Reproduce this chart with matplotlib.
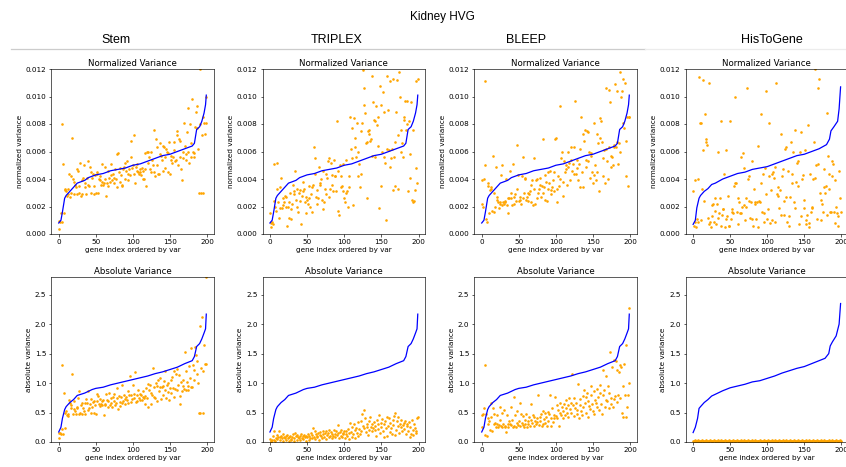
import numpy as np
import matplotlib
matplotlib.use('Agg')
import matplotlib.pyplot as plt

# ---- data (normalized values in units of 1e-3) ----
idx = np.arange(200)

curve_x = [0, 3, 5, 8, 10, 15, 20, 25, 30, 35, 40, 45, 50, 60, 70, 80, 90, 100,
           110, 120, 130, 140, 150, 160, 170, 180, 183, 186, 190, 193, 196, 198, 199]
norm_curve = [0.8, 1.0, 1.6, 2.6, 2.8, 3.1, 3.4, 3.7, 3.8, 3.9, 4.1, 4.2, 4.3, 4.4,
              4.6, 4.7, 4.8, 5.0, 5.1, 5.3, 5.5, 5.7, 5.8, 6.0, 6.2, 6.4, 6.6, 7.6,
              7.8, 8.2, 8.8, 9.4, 10.1]
abs_curve = [0.17, 0.25, 0.40, 0.55, 0.60, 0.67, 0.72, 0.79, 0.81, 0.83, 0.86, 0.89,
             0.91, 0.93, 0.97, 1.00, 1.03, 1.06, 1.09, 1.12, 1.16, 1.19, 1.23, 1.27,
             1.33, 1.38, 1.45, 1.62, 1.67, 1.75, 1.85, 1.92, 2.17]

htg_x = [0, 3, 5, 8, 10, 15, 20, 25, 30, 40, 50, 60, 70, 80, 90, 100, 110, 120,
         130, 140, 150, 160, 170, 180, 184, 186, 190, 195, 197, 199]
htg_norm_curve = [0.7, 1.0, 1.9, 2.6, 2.8, 3.1, 3.3, 3.6, 3.7, 4.0, 4.2, 4.4, 4.5,
                  4.7, 4.8, 4.9, 5.1, 5.3, 5.5, 5.7, 5.8, 6.0, 6.2, 6.5, 6.9, 7.5,
                  7.8, 8.2, 9.1, 10.7]
htg_abs_x = [0, 3, 6, 8, 10, 15, 20, 25, 30, 40, 50, 60, 70, 80, 90, 100, 110, 120,
             130, 140, 150, 160, 170, 178, 183, 185, 188, 193, 197, 199]
htg_abs_curve = [0.16, 0.25, 0.40, 0.57, 0.60, 0.67, 0.72, 0.78, 0.81, 0.87, 0.92,
                 0.95, 0.98, 1.02, 1.04, 1.08, 1.12, 1.17, 1.21, 1.25, 1.28, 1.33,
                 1.38, 1.42, 1.50, 1.63, 1.70, 1.80, 2.00, 2.35]

stem_norm = [
    0.4, 0.95, 0.9, 1.55, 8.0, 0.9, 5.1, 1.5, 3.3, 3.2,
    3.1, 2.8, 2.9, 3.3, 4.4, 2.7, 4.2, 3.0, 7.0, 4.0,
    2.9, 3.8, 3.6, 3.4, 2.9, 4.7, 4.6, 3.5, 3.0, 5.2,
    2.8, 3.9, 2.9, 4.1, 5.0, 3.7, 3.4, 2.9, 4.1, 3.6,
    5.3, 3.5, 4.9, 4.5, 3.0, 4.1, 4.4, 2.9, 3.5, 4.3,
    3.0, 4.5, 4.4, 3.0, 4.0, 3.9, 4.2, 3.6, 3.8, 5.1,
    3.6, 3.7, 4.9, 4.0, 2.8, 3.7, 3.5, 4.6, 4.1, 3.8,
    5.1, 4.3, 3.9, 4.4, 4.1, 3.7, 4.7, 4.0, 3.4, 5.8,
    5.9, 4.5, 4.8, 3.8, 4.3, 3.6, 3.5, 4.7, 4.9, 4.0,
    5.2, 4.6, 5.3, 3.9, 4.4, 4.7, 4.3, 5.6, 6.8, 4.8,
    5.0, 4.4, 7.2, 3.7, 4.9, 4.6, 5.1, 4.5, 4.4, 4.7,
    4.5, 4.3, 4.8, 4.0, 4.6, 4.0, 5.9, 4.7, 3.5, 6.0,
    5.2, 6.0, 5.6, 4.7, 6.0, 4.5, 5.4, 5.0, 4.5, 7.6,
    4.2, 6.9, 6.3, 5.0, 4.4, 4.4, 5.8, 6.6, 5.7, 5.4,
    6.4, 4.6, 6.3, 5.6, 4.8, 6.2, 6.0, 5.9, 4.5, 6.7,
    4.4, 5.7, 5.4, 5.2, 5.6, 6.7, 6.1, 5.3, 5.4, 7.2,
    7.5, 5.0, 6.9, 5.6, 6.8, 4.7, 3.9, 5.5, 6.0, 8.1,
    6.4, 5.4, 5.8, 7.4, 9.2, 6.0, 5.2, 8.0, 5.6, 6.6,
    9.8, 6.0, 5.6, 5.9, 7.8, 8.9, 7.7, 9.3, 6.2, 3.0,
    12.0, 8.0, 3.0, 7.2, 8.5, 3.0, 8.1, 7.3, 10.0, 8.1]

triplex_norm = [
    1.5, 0.5, 0.8, 0.9, 0.7, 5.1, 2.4, 2.0, 1.7, 3.3,
    5.2, 2.3, 1.2, 3.4, 1.9, 4.1, 1.9, 2.6, 2.1, 2.3,
    2.8, 2.0, 2.7, 0.6, 2.0, 2.3, 1.2, 3.0, 1.1, 1.8,
    2.2, 3.6, 3.1, 2.9, 4.6, 2.5, 3.3, 2.0, 1.6, 3.0,
    2.4, 3.2, 0.7, 2.8, 3.1, 3.8, 3.3, 2.3, 2.7, 1.5,
    2.5, 2.2, 3.5, 2.6, 2.0, 2.9, 3.4, 1.6, 3.6, 6.3,
    4.4, 5.5, 2.7, 3.2, 2.2, 2.6, 4.9, 3.6, 3.7, 4.0,
    2.5, 1.8, 4.6, 2.3, 3.3, 2.9, 4.4, 4.1, 5.3, 2.7,
    5.5, 3.3, 5.2, 4.3, 3.6, 3.1, 5.4, 4.2, 4.2, 3.1,
    8.2, 1.7, 4.6, 1.4, 5.0, 3.4, 4.2, 3.5, 5.1, 3.1,
    2.6, 2.3, 5.4, 3.0, 3.1, 2.0, 4.2, 3.4, 8.5, 6.2,
    5.5, 7.7, 2.1, 8.4, 6.3, 7.0, 5.6, 8.1, 4.2, 6.0,
    5.1, 3.4, 4.4, 7.5, 8.1, 11.9, 9.4, 10.6, 8.8, 6.6,
    6.7, 2.6, 7.5, 7.3, 7.6, 6.8, 6.9, 11.5, 5.7, 9.6,
    8.3, 8.2, 5.6, 9.3, 7.9, 8.5, 6.4, 1.9, 10.8, 3.5,
    9.4, 6.0, 10.3, 5.6, 8.9, 5.2, 1.0, 11.5, 6.2, 9.0,
    6.1, 11.1, 4.9, 5.5, 6.2, 11.3, 3.2, 5.6, 3.5, 6.7,
    8.9, 11.2, 7.2, 3.3, 11.8, 10.0, 7.6, 6.0, 6.6, 5.6,
    8.5, 8.3, 9.7, 7.6, 9.7, 8.0, 3.1, 8.2, 4.1, 5.8,
    9.6, 2.5, 2.3, 7.6, 2.4, 3.2, 4.8, 11.1, 3.7, 11.3]

bleep_norm = [
    2.2, 3.9, 2.0, 4.0, 5.0, 11.1, 1.1, 0.9, 3.5, 3.7,
    1.5, 3.2, 3.4, 3.3, 1.7, 5.7, 1.6, 3.0, 2.0, 4.9,
    2.7, 2.5, 2.3, 1.9, 2.3, 2.2, 4.3, 2.1, 5.0, 2.3,
    2.2, 2.4, 2.3, 4.0, 2.1, 1.5, 2.6, 2.6, 4.6, 2.6,
    3.0, 2.1, 5.1, 2.2, 2.7, 2.9, 2.4, 3.3, 6.5, 4.3,
    2.4, 2.7, 2.5, 2.2, 4.2, 2.6, 5.6, 3.0, 4.1, 4.0,
    2.5, 2.7, 3.0, 2.4, 2.9, 3.1, 2.3, 3.6, 3.9, 2.1,
    5.5, 3.3, 2.2, 3.9, 4.0, 2.6, 3.0, 3.3, 4.1, 3.6,
    2.7, 3.5, 6.9, 3.0, 3.4, 2.5, 4.3, 3.8, 2.4, 4.5,
    3.3, 3.7, 4.6, 3.2, 2.9, 3.4, 3.9, 3.1, 4.5, 6.9,
    7.0, 2.3, 3.3, 4.2, 3.5, 9.3, 4.0, 5.5, 6.0, 3.8,
    2.8, 5.3, 4.5, 5.0, 4.7, 3.6, 6.0, 4.9, 5.2, 3.9,
    6.3, 5.4, 4.6, 5.1, 4.4, 6.3, 9.7, 4.4, 5.4, 4.8,
    3.9, 5.1, 6.2, 3.4, 8.5, 4.5, 7.3, 3.4, 6.8, 7.6,
    4.9, 5.4, 7.5, 7.4, 5.3, 6.0, 4.1, 5.9, 5.7, 4.5,
    3.7, 8.1, 4.3, 5.0, 3.9, 7.3, 4.5, 6.6, 3.1, 7.0,
    8.4, 8.2, 6.7, 4.2, 5.5, 6.1, 3.7, 10.6, 6.2, 5.3,
    4.0, 6.3, 10.5, 9.6, 4.9, 5.7, 5.6, 5.0, 6.3, 6.5,
    10.9, 6.3, 10.4, 6.7, 5.1, 6.6, 11.8, 6.0, 10.0, 10.4,
    8.1, 11.3, 7.7, 11.0, 4.2, 6.8, 8.5, 3.5, 8.5, 8.5]

htg_norm = [
    3.1, 0.6, 0.9, 3.9, 0.5, 1.1, 0.9, 4.0, 11.4, 8.1,
    8.1, 1.0, 3.3, 11.2, 6.1, 2.4, 8.7, 6.7, 6.9, 6.5,
    1.2, 11.0, 0.7, 0.9, 0.5, 2.1, 1.3, 2.2, 0.9, 2.6,
    1.7, 0.7, 2.2, 1.2, 6.0, 1.5, 2.6, 8.2, 0.6, 1.4,
    1.8, 1.8, 4.4, 0.5, 6.1, 1.1, 1.3, 2.8, 0.6, 0.6,
    8.2, 1.1, 1.6, 1.8, 1.5, 3.5, 10.0, 3.7, 3.7, 1.6,
    0.7, 2.6, 2.3, 1.5, 1.5, 5.6, 2.0, 5.9, 4.8, 2.1,
    1.0, 2.0, 2.6, 10.6, 4.0, 4.2, 2.4, 1.2, 2.3, 5.3,
    1.1, 0.6, 3.3, 2.2, 2.3, 1.1, 2.3, 6.4, 0.5, 2.4,
    2.3, 3.7, 8.7, 1.6, 4.4, 1.5, 0.9, 4.8, 2.9, 10.4,
    1.1, 1.8, 4.2, 8.1, 0.8, 3.2, 1.0, 4.4, 4.5, 4.1,
    4.9, 0.9, 11.0, 2.9, 2.8, 3.4, 1.9, 3.2, 7.3, 1.4,
    4.2, 4.7, 1.4, 2.4, 6.2, 6.3, 2.7, 0.9, 4.6, 0.6,
    1.3, 2.7, 6.7, 3.7, 4.4, 6.0, 2.3, 1.9, 7.6, 3.8,
    5.2, 3.5, 5.3, 0.7, 6.0, 7.4, 1.3, 4.0, 4.3, 1.9,
    2.5, 6.1, 1.0, 0.7, 1.4, 7.9, 0.8, 0.5, 4.4, 1.6,
    1.9, 2.0, 4.0, 6.7, 12.0, 4.1, 5.0, 1.1, 5.1, 10.6,
    11.3, 3.0, 1.0, 2.5, 2.2, 1.6, 4.7, 3.4, 3.0, 3.5,
    8.8, 1.4, 5.7, 3.3, 4.4, 1.6, 1.6, 5.3, 4.2, 5.1,
    1.6, 0.8, 3.9, 2.0, 1.5, 0.6, 1.3, 4.6, 2.6, 1.6]

stem_abs = [
    0.15, 0.07, 0.15, 0.14, 0.22, 1.31, 0.14, 0.84, 0.24, 0.50,
    0.53, 0.46, 0.44, 0.47, 0.72, 0.66, 0.62, 0.57, 1.15, 0.48,
    0.70, 0.56, 0.53, 0.48, 0.60, 0.58, 0.75, 0.47, 0.86, 0.50,
    0.63, 0.48, 0.66, 0.58, 0.52, 0.66, 0.48, 0.73, 0.66, 0.55,
    0.87, 0.57, 0.65, 0.50, 0.73, 0.60, 0.68, 0.69, 0.50, 0.62,
    0.48, 0.70, 0.82, 0.78, 0.65, 0.61, 0.73, 0.64, 0.70, 0.62,
    0.72, 0.46, 0.65, 0.62, 0.81, 0.72, 0.60, 0.69, 0.84, 0.62,
    0.67, 0.75, 0.59, 0.77, 0.70, 0.82, 0.62, 0.67, 0.91, 0.74,
    0.56, 0.78, 0.68, 0.61, 0.77, 0.96, 0.66, 0.70, 0.79, 0.73,
    0.64, 0.77, 0.71, 0.87, 0.66, 0.80, 1.12, 0.68, 0.79, 0.73,
    0.97, 0.75, 0.82, 1.18, 0.68, 0.70, 0.79, 0.88, 0.74, 0.82,
    0.71, 0.80, 0.72, 0.86, 0.77, 0.75, 0.78, 0.65, 0.92, 0.74,
    0.98, 0.59, 0.89, 0.97, 0.65, 0.84, 0.80, 1.26, 0.77, 0.93,
    0.74, 1.00, 0.95, 0.69, 1.06, 0.86, 1.08, 0.94, 0.73, 0.93,
    0.95, 0.79, 1.03, 0.88, 1.20, 0.74, 0.97, 1.00, 0.85, 0.72,
    0.91, 1.05, 0.83, 1.10, 0.92, 0.77, 1.21, 0.90, 1.16, 0.88,
    1.24, 0.97, 1.13, 0.78, 0.64, 1.01, 0.86, 0.95, 1.05, 0.90,
    1.52, 0.89, 1.20, 1.02, 0.95, 0.88, 1.29, 1.09, 0.93, 1.60,
    0.93, 1.30, 1.05, 1.22, 1.61, 1.47, 1.15, 1.37, 1.00, 0.50,
    1.97, 0.50, 1.25, 2.12, 0.50, 1.20, 1.64, 1.32, 1.33, 2.80]

triplex_abs = [
    0.05, 0.02, 0.00, 0.03, 0.10, 0.18, 0.04, 0.01, 0.07, 0.12,
    0.05, 0.09, 0.19, 0.08, 0.03, 0.11, 0.06, 0.13, 0.02, 0.09,
    0.07, 0.10, 0.04, 0.12, 0.06, 0.01, 0.08, 0.11, 0.05, 0.03,
    0.09, 0.14, 0.06, 0.02, 0.16, 0.10, 0.04, 0.12, 0.08, 0.06,
    0.11, 0.03, 0.13, 0.07, 0.10, 0.05, 0.12, 0.09, 0.02, 0.11,
    0.08, 0.13, 0.04, 0.10, 0.07, 0.15, 0.06, 0.12, 0.23, 0.09,
    0.19, 0.05, 0.14, 0.11, 0.08, 0.16, 0.03, 0.12, 0.17, 0.10,
    0.07, 0.18, 0.13, 0.09, 0.15, 0.05, 0.19, 0.12, 0.16, 0.08,
    0.20, 0.11, 0.17, 0.06, 0.14, 0.10, 0.21, 0.13, 0.08, 0.18,
    0.12, 0.29, 0.15, 0.07, 0.17, 0.11, 0.20, 0.09, 0.16, 0.13,
    0.19, 0.06, 0.14, 0.18, 0.10, 0.22, 0.05, 0.15, 0.32, 0.17,
    0.09, 0.26, 0.13, 0.30, 0.20, 0.07, 0.24, 0.16, 0.34, 0.11,
    0.22, 0.14, 0.36, 0.19, 0.48, 0.27, 0.54, 0.23, 0.40, 0.17,
    0.25, 0.30, 0.12, 0.35, 0.21, 0.43, 0.26, 0.18, 0.31, 0.24,
    0.34, 0.20, 0.28, 0.10, 0.38, 0.22, 0.30, 0.46, 0.15, 0.33,
    0.26, 0.39, 0.19, 0.30, 0.08, 0.35, 0.23, 0.11, 0.42, 0.28,
    0.40, 0.17, 0.33, 0.24, 0.14, 0.37, 0.29, 0.44, 0.12, 0.50,
    0.21, 0.35, 0.27, 0.42, 0.15, 0.31, 0.25, 0.38, 0.19, 0.29,
    0.33, 0.22, 0.36, 0.13, 0.27, 0.30, 0.18, 0.34, 0.09, 0.26,
    0.14, 0.38, 0.20, 0.12, 0.31, 0.24, 0.15, 0.19, 0.41, 0.42]

bleep_abs = [
    0.26, 0.46, 0.47, 0.58, 1.30, 0.12, 0.47, 0.10, 0.30, 0.40,
    0.35, 0.20, 0.43, 0.67, 0.19, 0.58, 0.30, 0.47, 0.32, 0.26,
    0.30, 0.45, 0.25, 0.29, 0.59, 0.38, 0.27, 0.50, 0.26, 0.30,
    0.55, 0.26, 0.28, 0.17, 0.46, 0.30, 0.25, 0.36, 0.30, 0.60,
    0.29, 0.38, 0.25, 0.76, 0.28, 0.45, 0.26, 0.33, 0.52, 0.29,
    0.35, 0.27, 0.66, 0.48, 0.33, 0.29, 0.44, 0.25, 0.38, 0.31,
    0.47, 0.26, 0.35, 0.30, 0.42, 0.28, 0.65, 0.38, 0.33, 0.45,
    0.27, 0.43, 0.36, 0.30, 0.40, 0.34, 0.80, 0.29, 0.42, 0.36,
    0.47, 0.28, 0.52, 0.31, 0.39, 0.50, 0.33, 0.43, 0.28, 0.51,
    0.36, 0.48, 0.80, 0.41, 0.27, 0.58, 0.34, 0.45, 0.40, 0.77,
    0.44, 0.63, 0.40, 0.55, 0.28, 0.50, 0.67, 0.45, 0.60, 0.52,
    0.41, 0.65, 0.46, 0.58, 0.72, 0.49, 0.62, 0.43, 0.74, 0.56,
    0.67, 0.50, 1.15, 0.62, 0.44, 0.74, 0.58, 0.66, 0.47, 0.55,
    0.99, 0.41, 0.73, 0.63, 0.52, 0.45, 0.78, 0.60, 0.88, 0.67,
    0.76, 0.50, 0.84, 0.42, 0.70, 0.61, 0.56, 0.80, 0.95, 0.64,
    0.52, 0.86, 0.47, 0.71, 0.66, 0.90, 0.59, 0.77, 0.55, 0.83,
    0.97, 0.65, 0.48, 1.22, 0.79, 0.88, 0.60, 0.72, 1.12, 0.69,
    0.95, 0.57, 0.83, 1.52, 0.65, 0.74, 1.27, 0.60, 1.39, 0.73,
    0.78, 1.38, 0.68, 1.22, 0.80, 1.19, 1.30, 0.75, 1.27, 0.50,
    0.42, 0.95, 1.32, 0.79, 0.42, 1.65, 0.60, 0.80, 2.28, 1.00]

htg_abs = [
    0.02, 0.01, 0.03, 0.02, 0.01, 0.02, 0.03, 0.01, 0.02, 0.02,
    0.01, 0.02, 0.03, 0.02, 0.01, 0.02, 0.02, 0.03, 0.01, 0.02,
    0.02, 0.01, 0.02, 0.03, 0.02, 0.01, 0.02, 0.02, 0.03, 0.01,
    0.02, 0.02, 0.01, 0.03, 0.02, 0.02, 0.01, 0.02, 0.03, 0.02,
    0.01, 0.02, 0.02, 0.03, 0.01, 0.02, 0.02, 0.01, 0.03, 0.02,
    0.02, 0.01, 0.02, 0.02, 0.03, 0.01, 0.02, 0.02, 0.01, 0.03,
    0.02, 0.02, 0.01, 0.02, 0.03, 0.02, 0.01, 0.02, 0.02, 0.03,
    0.01, 0.02, 0.02, 0.01, 0.03, 0.02, 0.02, 0.01, 0.02, 0.03,
    0.02, 0.01, 0.02, 0.02, 0.03, 0.01, 0.02, 0.02, 0.01, 0.02,
    0.03, 0.02, 0.01, 0.02, 0.02, 0.03, 0.01, 0.02, 0.02, 0.01,
    0.02, 0.03, 0.02, 0.01, 0.02, 0.02, 0.03, 0.01, 0.02, 0.02,
    0.01, 0.03, 0.02, 0.02, 0.01, 0.02, 0.03, 0.02, 0.01, 0.02,
    0.02, 0.03, 0.01, 0.02, 0.02, 0.01, 0.03, 0.02, 0.02, 0.01,
    0.02, 0.03, 0.02, 0.01, 0.02, 0.02, 0.03, 0.01, 0.02, 0.02,
    0.01, 0.02, 0.03, 0.02, 0.01, 0.02, 0.02, 0.03, 0.01, 0.02,
    0.02, 0.01, 0.03, 0.02, 0.02, 0.01, 0.02, 0.03, 0.02, 0.01,
    0.02, 0.02, 0.03, 0.01, 0.02, 0.02, 0.01, 0.03, 0.02, 0.02,
    0.01, 0.02, 0.03, 0.02, 0.01, 0.02, 0.02, 0.03, 0.01, 0.02,
    0.02, 0.01, 0.02, 0.03, 0.02, 0.01, 0.02, 0.02, 0.03, 0.01,
    0.02, 0.02, 0.01, 0.03, 0.02, 0.02, 0.01, 0.02, 0.03, 0.02]

methods = ['Stem', 'TRIPLEX', 'BLEEP', 'HisToGene']
norm_points = [stem_norm, triplex_norm, bleep_norm, htg_norm]
abs_points = [stem_abs, triplex_abs, bleep_abs, htg_abs]

# ---- figure ----
W, H = 846.0, 467.0
fig = plt.figure(figsize=(W / 100, H / 100), dpi=100)

params = {'font.size': 5.2,
          'axes.titlesize': 6.2,
          'axes.labelsize': 5.2,
          'xtick.labelsize': 5.2,
          'ytick.labelsize': 5.2,
          'axes.linewidth': 0.45,
          'xtick.major.width': 0.45,
          'ytick.major.width': 0.45,
          'xtick.major.size': 1.8,
          'ytick.major.size': 1.8,
          'xtick.major.pad': 1.8,
          'ytick.major.pad': 1.8,
          'axes.labelpad': 2.0}
plt.rcParams.update(params)

col_px = [(51.3, 213.7), (262.5, 425.2), (474.3, 636.7), (685.7, 848.0)]
row_px = [(69.0, 234.0), (277.0, 442.0)]


def px_axes(x0, x1, y0, y1):
    return fig.add_axes([x0 / W, 1 - y1 / H, (x1 - x0) / W, (y1 - y0) / H])


for i, name in enumerate(methods):
    x0, x1 = col_px[i]
    if name == 'HisToGene':
        nx, ny = htg_x, htg_norm_curve
        ax_, ay_ = htg_abs_x, htg_abs_curve
    else:
        nx, ny = curve_x, norm_curve
        ax_, ay_ = curve_x, abs_curve

    # normalized variance
    ax = px_axes(x0, x1, *row_px[0])
    ax.scatter(idx, np.array(norm_points[i]) / 1000.0, s=3.5, color='orange',
               linewidths=0, zorder=2)
    ax.plot(nx, np.array(ny) / 1000.0, '-', color='blue', linewidth=0.9, zorder=3)
    ax.set_xlim(-10, 209)
    ax.set_ylim(0, 0.012)
    ax.set_yticks([0, 0.002, 0.004, 0.006, 0.008, 0.010, 0.012])
    ax.set_yticklabels(['0.000', '0.002', '0.004', '0.006', '0.008', '0.010', '0.012'])
    ax.set_xticks([0, 50, 100, 150, 200])
    ax.set_title('Normalized Variance', pad=2.5)
    ax.set_ylabel('normalized variance')
    ax.set_xlabel('gene index ordered by var', labelpad=1.5)

    # absolute variance
    ax = px_axes(x0, x1, *row_px[1])
    ax.scatter(idx, abs_points[i], s=3.5, color='orange', linewidths=0, zorder=2)
    ax.plot(ax_, ay_, '-', color='blue', linewidth=0.9, zorder=3)
    ax.set_xlim(-10, 209)
    ax.set_ylim(0, 2.8)
    ax.set_yticks([0, 0.5, 1.0, 1.5, 2.0, 2.5])
    ax.set_xticks([0, 50, 100, 150, 200])
    ax.set_title('Absolute Variance', pad=2.5)
    ax.set_ylabel('absolute variance')
    ax.set_xlabel('gene index ordered by var', labelpad=1.5)

# header texts
fig.text(442 / W, 1 - 17 / H, 'Kidney HVG', ha='center', va='center',
         fontsize=8.5, family='Liberation Sans')
col_centers = [116, 337, 526, 772]
for cx, name in zip(col_centers, methods):
    fig.text(cx / W, 1 - 40 / H, name, ha='center', va='center',
             fontsize=9, family='Liberation Sans')
fig.add_artist(plt.Line2D([11 / W, 645 / W], [1 - 49 / H, 1 - 49 / H],
                          color='#cccccc', linewidth=0.9))
fig.add_artist(plt.Line2D([645 / W, 1.0], [1 - 49 / H, 1 - 49 / H],
                          color='#ececec', linewidth=0.9))

fig.savefig('out.png', dpi=100)
